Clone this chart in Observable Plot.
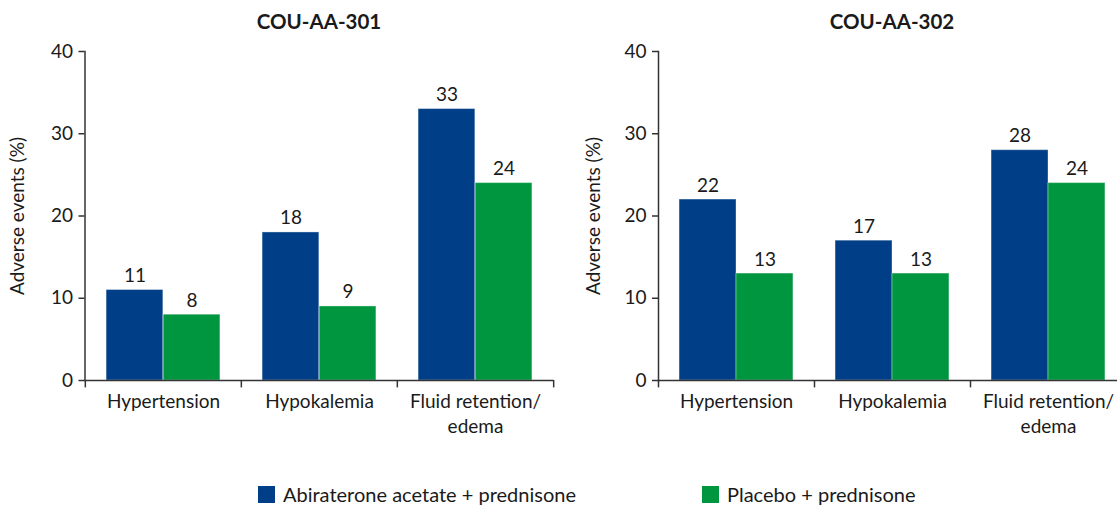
<!DOCTYPE html>
<html>
<head>
<meta charset="utf-8">
<script src="https://cdn.jsdelivr.net/npm/d3@7"></script>
<script src="https://cdn.jsdelivr.net/npm/@observablehq/plot@0.6"></script>
<style>
  html, body { margin: 0; padding: 0; background: #fff; }
  body { width: 1117px; height: 506px; overflow: hidden; font-family: Lato, "Open Sans", sans-serif; color: #1a1a1a; position: relative; }
  #panels { display: flex; }
  .panel { position: relative; overflow: hidden; flex: none; }
  .panel svg { max-width: none !important; }
  .title { font-weight: bold; font-size: 20.5px; text-align: center; height: 40px; line-height: 42px; }
  #legend { position: relative; height: 61px; font-size: 20px; }
  .item { position: absolute; top: 37px; display: flex; align-items: center; }
  .sw { width: 17px; height: 17px; margin-right: 8px; }
</style>
</head>
<body>
<div id="panels"></div>
<div id="legend"></div>
<script>
const categories = ["Hypertension", "Hypokalemia", "Fluid retention/\nedema"];
const seriesNames = ["Abiraterone acetate + prednisone", "Placebo + prednisone"];
const colors = ["#003f87", "#009640"];
const titles = ["COU-AA-301", "COU-AA-302"];
const abiraterone301 = [11, 18, 33];
const placebo301 = [8, 9, 24];
const abiraterone302 = [22, 17, 28];
const placebo302 = [13, 13, 24];
const yTicks = [0, 10, 20, 30, 40];

const panels = [
  {title: titles[0], a: abiraterone301, p: placebo301, width: 558, svgWidth: 558, marginLeft: 84.5, marginRight: 4.5, labelOffset: 75},
  {title: titles[1], a: abiraterone302, p: placebo302, width: 559, svgWidth: 568, marginLeft: 100, marginRight: 0, labelOffset: 72}
];

const container = document.getElementById("panels");
for (const cfg of panels) {
  const dataA = categories.map((c, i) => ({category: c, value: cfg.a[i]}));
  const dataP = categories.map((c, i) => ({category: c, value: cfg.p[i]}));
  const bw = (cfg.svgWidth - cfg.marginLeft - cfg.marginRight) / categories.length;
  const outer = bw * 0.135, barW = (bw - 2 * outer) / 2;
  const off = barW / 2;
  const plot = Plot.plot({
    width: cfg.svgWidth,
    height: 405,
    marginTop: 11,
    marginBottom: 65,
    marginLeft: cfg.marginLeft,
    marginRight: cfg.marginRight,
    style: {fontFamily: "Lato, 'Open Sans', sans-serif", fontSize: "19px", color: "#1a1a1a", background: "#fff", maxWidth: "none"},
    x: {domain: categories, padding: 0, label: null},
    y: {domain: [0, 40], label: null},
    marks: [
      Plot.barY(dataA, {x: "category", y: "value", fill: colors[0], insetLeft: outer, insetRight: outer + barW, stroke: "#fff", strokeOpacity: 0.35, strokeWidth: 1}),
      Plot.barY(dataP, {x: "category", y: "value", fill: colors[1], insetLeft: outer + barW, insetRight: outer, stroke: "#fff", strokeOpacity: 0.35, strokeWidth: 1}),
      Plot.text(dataA, {x: "category", y: "value", text: d => String(d.value), dx: -off, dy: -8, lineAnchor: "bottom", fontSize: 19, fill: "#1a1a1a"}),
      Plot.text(dataP, {x: "category", y: "value", text: d => String(d.value), dx: off, dy: -8, lineAnchor: "bottom", fontSize: 19, fill: "#1a1a1a"}),
      Plot.frame({anchor: "left", stroke: "#333", strokeWidth: 1.5}),
      Plot.ruleY([0], {stroke: "#333", strokeWidth: 1.5}),
      Plot.ruleX(categories, {x: d => d, y1: 0, y2: -0.9, dx: -bw / 2, stroke: "#333", strokeWidth: 1.5}),
      Plot.ruleX(categories.slice(-1), {x: d => d, y1: 0, y2: -0.9, dx: bw / 2, stroke: "#333", strokeWidth: 1.5}),
      Plot.axisY({ticks: yTicks, tickSize: 6, tickPadding: 6, stroke: "#333", strokeWidth: 1.5, fontSize: 19, label: "Adverse events (%)", labelAnchor: "center", labelArrow: "none", labelOffset: cfg.labelOffset}),
      Plot.axisX({tickSize: 0, tickPadding: 10, fontSize: 19, lineHeight: 1.3})
    ]
  });
  const div = document.createElement("div");
  div.className = "panel";
  div.style.width = cfg.width + "px";
  const t = document.createElement("div");
  t.className = "title";
  t.textContent = cfg.title;
  t.style.marginLeft = cfg.marginLeft + "px";
  t.style.width = (cfg.svgWidth - cfg.marginLeft - cfg.marginRight) + "px";
  div.appendChild(t);
  div.appendChild(plot);
  container.appendChild(div);
}

const legend = document.getElementById("legend");
const lefts = [258, 702];
seriesNames.forEach((name, i) => {
  const it = document.createElement("div");
  it.className = "item";
  it.style.left = lefts[i] + "px";
  it.innerHTML = `<span class="sw" style="background:${colors[i]}"></span><span>${name}</span>`;
  legend.appendChild(it);
});
</script>
</body>
</html>
